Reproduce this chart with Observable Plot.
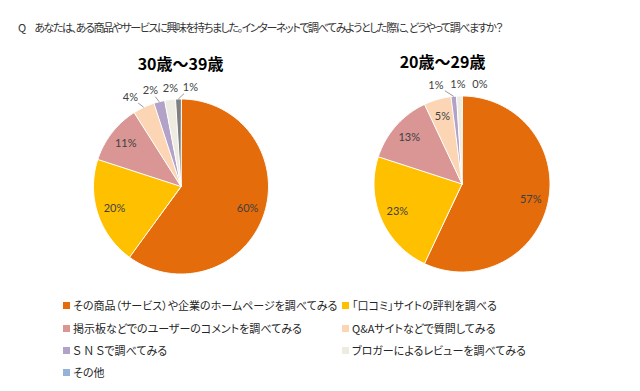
<!DOCTYPE html>
<html><head><meta charset="utf-8">
<script src="https://cdn.jsdelivr.net/npm/d3@7"></script>
<script src="https://cdn.jsdelivr.net/npm/@observablehq/plot@0.6"></script>
<style>
body{margin:0;background:#fff;width:640px;height:391px;overflow:hidden;position:relative;font-family:"Noto Sans CJK JP",sans-serif;}
#q{position:absolute;left:18px;top:19px;font-size:11px;color:#333;white-space:nowrap;font-feature-settings:"palt";}
#chart{position:absolute;left:0;top:42px;}
#legend{position:absolute;left:0;top:0;width:640px;height:391px;font-size:11px;color:#262626;pointer-events:none;}
.item{position:absolute;white-space:nowrap;display:flex;align-items:center;font-feature-settings:"palt";height:16px;}
.sw{width:7px;height:7px;margin-right:3px;flex:none;}
</style></head><body>
<div id="q"></div><div id="chart"></div><div id="legend"></div>
<script>
const question = "Q　あなたは、ある商品やサービスに興味を持ちました。インターネットで調べてみようとした際に、どうやって調べますか？";
const categories = [
  "その商品（サービス）や企業のホームページを調べてみる",
  "「口コミ」サイトの評判を調べる",
  "掲示板などでのユーザーのコメントを調べてみる",
  "Q&Aサイトなどで質問してみる",
  "Ｓ Ｎ Ｓで調べてみる",
  "ブロガーによるレビューを調べてみる",
  "その他"
];
const pieTitles = ["30歳～39歳", "20歳～29歳"];
const values30 = [60, 20, 11, 4, 2, 2, 1];
const values20 = [57, 23, 13, 5, 1, 1, 0];
const sliceColors = ["#E46C0A", "#FFC000", "#D99694", "#FCD5B5", "#B3A2C7", "#EEECE1", "#7F7F7F"];
const legendColors = ["#E46C0A", "#FFC000", "#D99694", "#FCD5B5", "#B3A2C7", "#EEECE1", "#95B3D7"];

// layout
const H = 250;
const pies = [
  {title: pieTitles[0], values: values30, cx: 180.5, cy: 144, r: 87.5, tx: 180, ty: 22, gap: 20},
  {title: pieTitles[1], values: values20, cx: 461.5, cy: 141.5, r: 88, tx: 442, ty: 20, gap: 22}
];

const slicePts = [], labels = [], leaders = [], titles = [];
pies.forEach((p, pi) => {
  titles.push({x: p.tx, y: p.ty, text: p.title});
  const arcs = d3.pie().sort(null).value(d => d)(p.values);
  const pt = (a, rho) => ({x: p.cx + rho * Math.sin(a), y: p.cy - rho * Math.cos(a)});
  const outside = [];
  arcs.forEach((a, i) => {
    const key = pi + "-" + i;
    if (a.endAngle - a.startAngle > 0) {
      slicePts.push({key, cat: categories[i], x: p.cx, y: p.cy});
      const n = Math.max(2, Math.ceil((a.endAngle - a.startAngle) / 0.02));
      for (let k = 0; k <= n; k++) {
        const ang = a.startAngle + (a.endAngle - a.startAngle) * k / n;
        const q = pt(ang, p.r);
        slicePts.push({key, cat: categories[i], x: q.x, y: q.y});
      }
    }
    const mid = (a.startAngle + a.endAngle) / 2;
    const text = p.values[i] + "%";
    if (p.values[i] >= 5) {
      const q = pt(mid, p.r * 0.8);
      labels.push({x: q.x, y: q.y, text});
    } else {
      const q = pt(mid, p.r * 1.13);
      const e = pt(mid, p.r);
      outside.push({x: q.x, y: q.y, text, ex: e.x, ey: e.y, v: p.values[i]});
    }
  });
  // spread outside labels horizontally
  const meanX = d3.mean(outside, d => d.x);
  outside.forEach((d, i) => {
    d.x = meanX + (i - (outside.length - 1) / 2) * p.gap;
    labels.push({x: d.x, y: d.y, text: d.text});
    const dx = d.ex - d.x, dy = d.ey - d.y;
    const dist = Math.hypot(dx, dy);
    if (d.v > 0 && dist > 13) {
      const t = Math.min(9 / Math.abs(dx || 1e-6), 6 / Math.abs(dy || 1e-6));
      leaders.push({x1: d.x + dx * t, y1: d.y + dy * t, x2: d.ex, y2: d.ey});
    }
  });
});

const chart = Plot.plot({
  width: 640, height: H, margin: 0,
  x: {domain: [0, 640], range: [0, 640], axis: null},
  y: {domain: [0, H], range: [0, H], axis: null},
  color: {domain: categories, range: sliceColors},
  marks: [
    Plot.line(slicePts, {x: "x", y: "y", z: "key", fill: "cat", stroke: "white", strokeWidth: 1, curve: "linear-closed"}),
    Plot.link(leaders, {x1: "x1", y1: "y1", x2: "x2", y2: "y2", stroke: "#7f7f7f", strokeWidth: 0.8}),
    Plot.text(labels, {x: "x", y: "y", text: "text", fontSize: 11, fill: "#404040", fontFamily: "Lato"}),
    Plot.text(titles, {x: "x", y: "y", text: "text", fontSize: 16, fontWeight: "bold", fill: "#000", fontFamily: "Noto Sans CJK JP"})
  ]
});
document.getElementById("chart").appendChild(chart);

// question: fit to the reference width with letter spacing
const qEl = document.getElementById("q");
qEl.textContent = question;
const target = 484;
const w = qEl.getBoundingClientRect().width;
qEl.style.letterSpacing = ((target - w) / question.length) + "px";

// legend
const leg = document.getElementById("legend");
const colX = [63, 342];
const rowY = [305, 328, 350, 372];
categories.forEach((c, i) => {
  const it = document.createElement("div");
  it.className = "item";
  it.style.left = colX[i % 2] + "px";
  it.style.top = (rowY[Math.floor(i / 2)] - 8) + "px";
  const sw = document.createElement("span");
  sw.className = "sw";
  sw.style.background = legendColors[i];
  const tx = document.createElement("span");
  tx.textContent = c;
  it.appendChild(sw); it.appendChild(tx);
  leg.appendChild(it);
});
</script>
</body></html>
